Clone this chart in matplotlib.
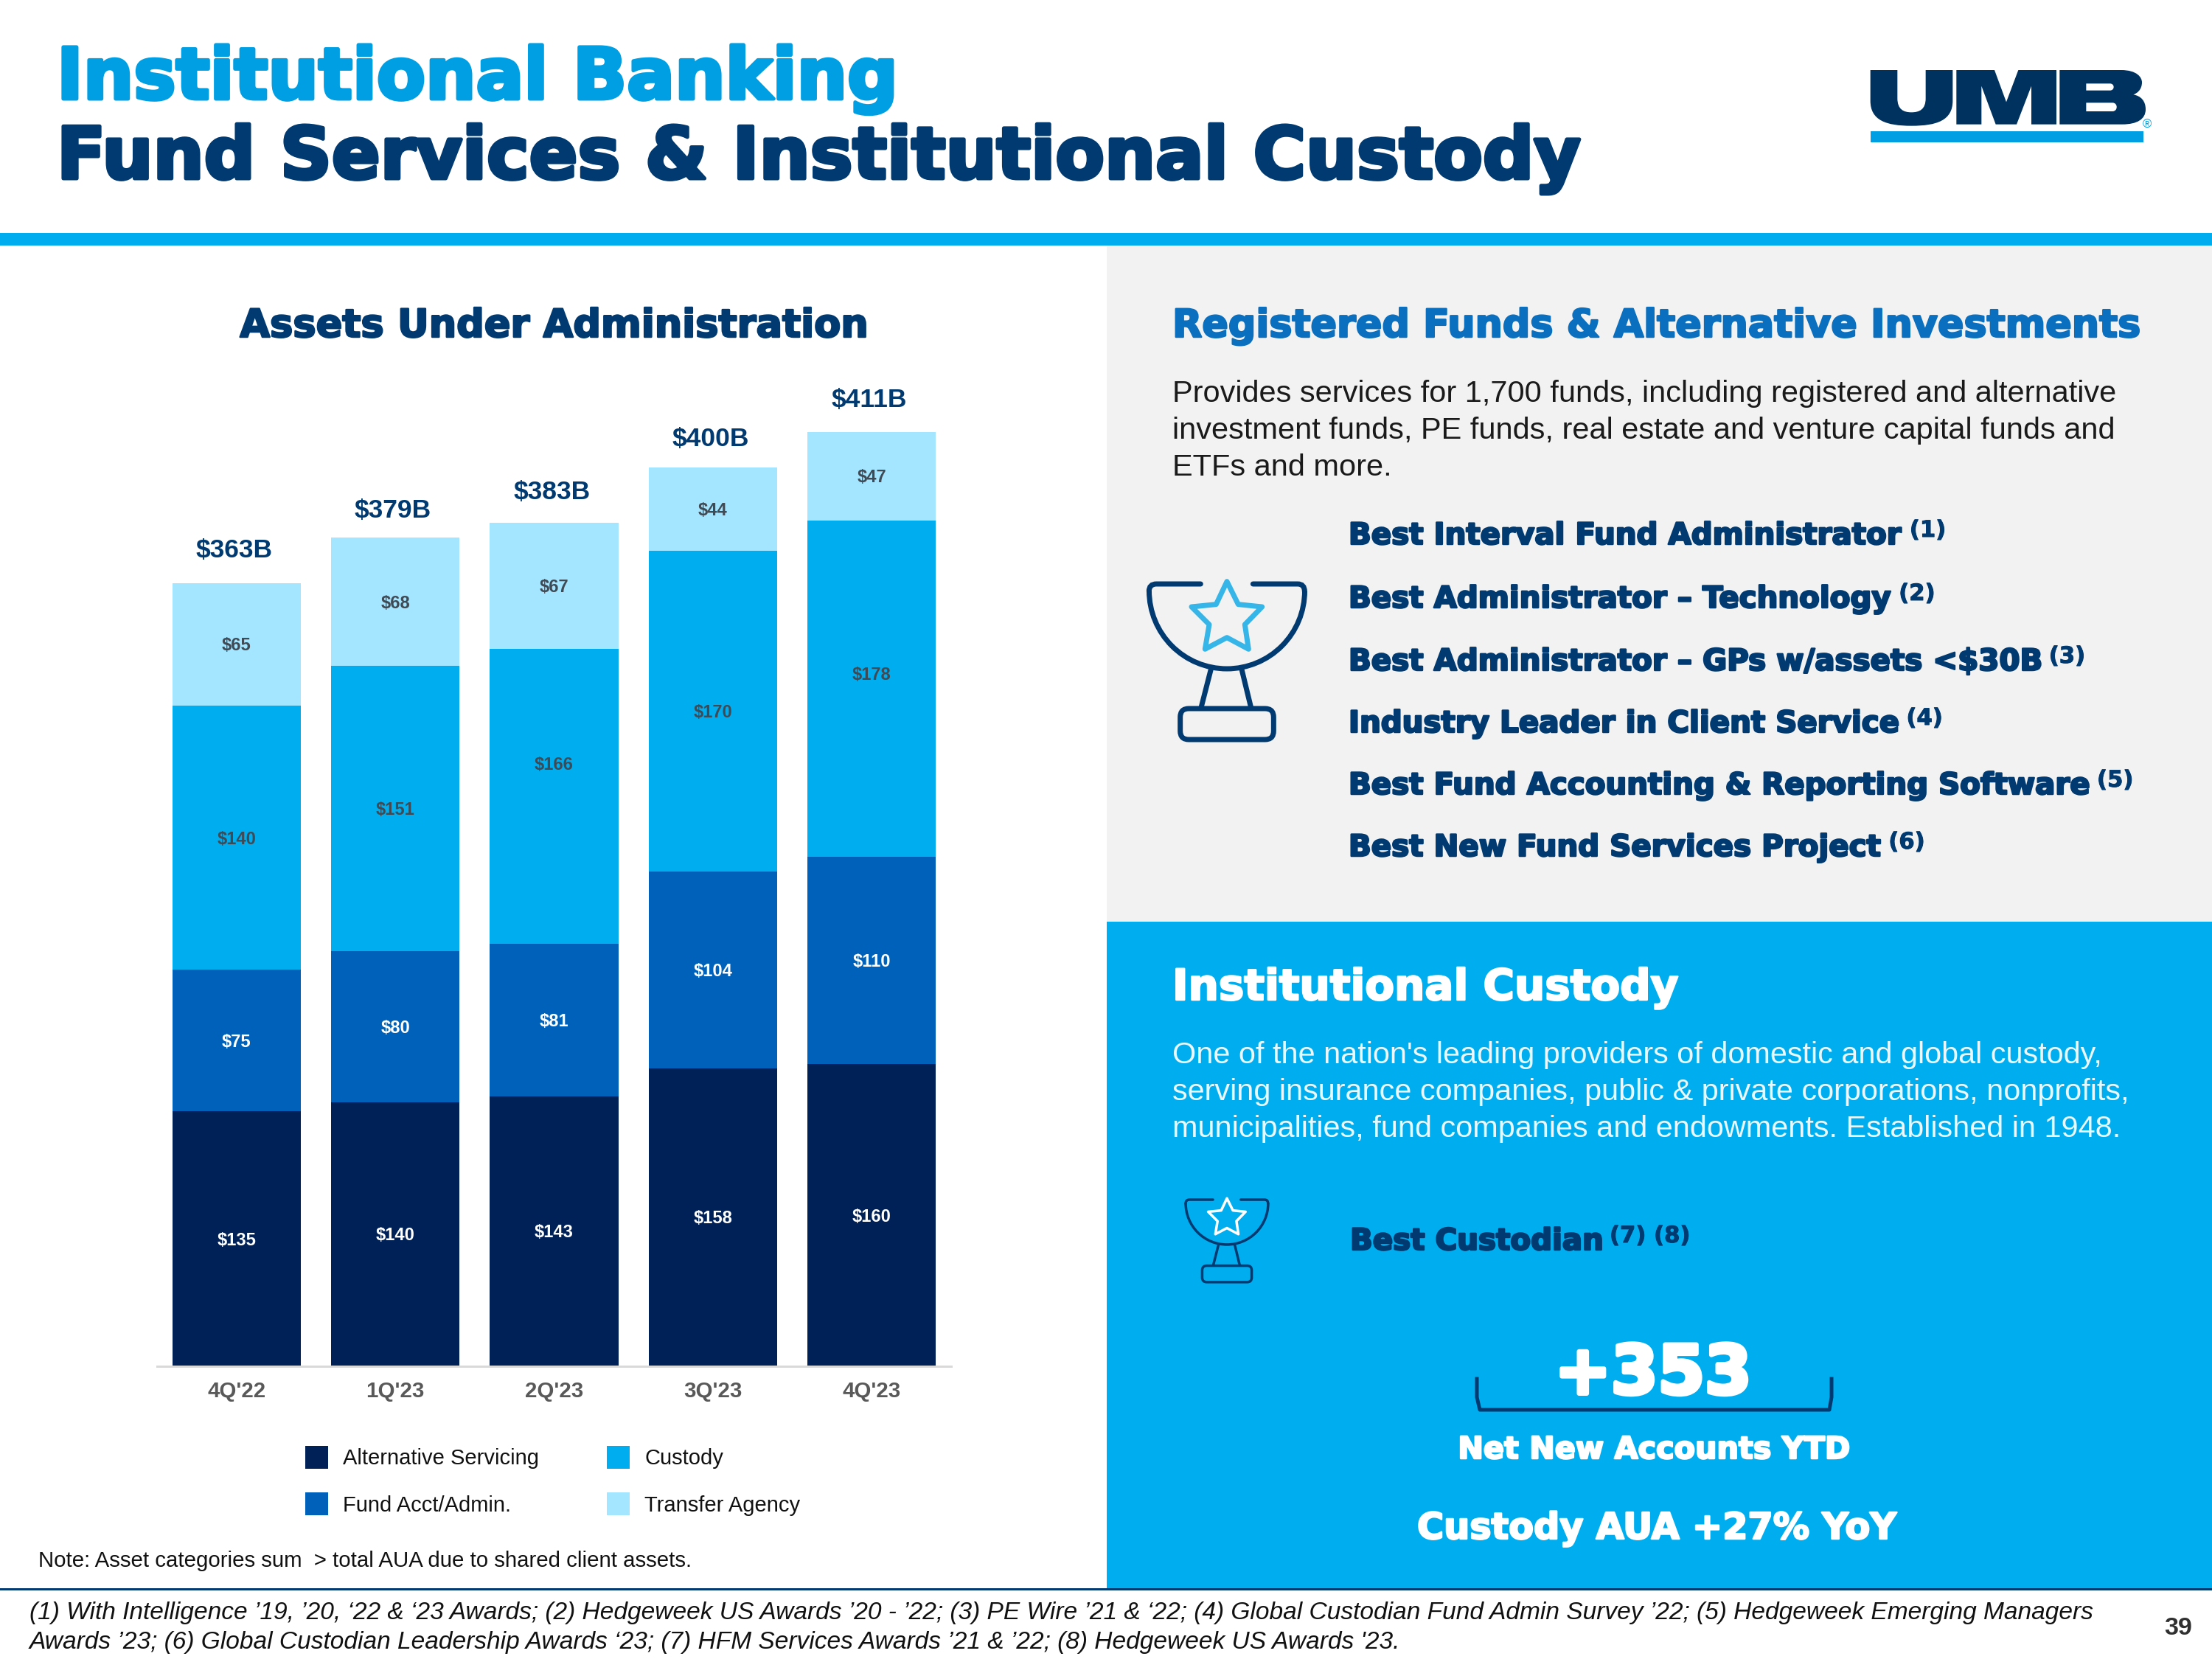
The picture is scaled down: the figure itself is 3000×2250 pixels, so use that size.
import matplotlib
matplotlib.use('Agg')
import matplotlib.pyplot as plt
import matplotlib.patheffects as PathEffects
from matplotlib.font_manager import FontProperties
from matplotlib.patches import Rectangle, FancyBboxPatch, Polygon, PathPatch, Arc
from matplotlib.path import Path
from matplotlib.textpath import TextPath

plt.rcParams['font.family'] = ['Liberation Sans', 'DejaVu Sans']

# chart data, $B
quarters = ["4Q'22", "1Q'23", "2Q'23", "3Q'23", "4Q'23"]
alternative = [135, 140, 143, 158, 160]
fund_acct = [75, 80, 81, 104, 110]
custody = [140, 151, 156, 170, 178]  # 2Q'23 is drawn shorter than its $166 label
transfer = [65, 68, 67, 44, 47]
custody_labels = [140, 151, 166, 170, 178]
totals = ['$363B', '$379B', '$383B', '$400B', '$411B']

series_names = ['Alternative Servicing', 'Fund Acct/Admin.', 'Custody', 'Transfer Agency']
series_colors = ['#002157', '#0061bb', '#00aeef', '#a4e6ff']
label_colors = ['white', 'white', '#3f4a55', '#3f4a55']

awards = ['Best Interval Fund Administrator', 'Best Administrator \u2013 Technology',
          'Best Administrator \u2013 GPs w/assets <$30B', 'Industry Leader in Client Service',
          'Best Fund Accounting & Reporting Software', 'Best New Fund Services Project']
award_notes = ['(1)', '(2)', '(3)', '(4)', '(5)', '(6)']

DARK = '#003a70'
LIGHT = '#009fe3'
BLUE = '#00aeef'
HEAD = 'DejaVu Sans'
BODY = 'Liberation Sans'
PX = 72 / 300  # points per pixel at this dpi


def size_for(s, w, weight='bold', style='normal', family=BODY):
    # font size that makes s about w pixels wide
    fp = FontProperties(family=family, weight=weight, style=style)
    return 100 * w * PX / TextPath((0, 0), s, size=100, prop=fp).get_extents().width


def width_of(s, size, family=HEAD):
    fp = FontProperties(family=family, weight='bold')
    return TextPath((0, 0), s, size=size, prop=fp).get_extents().width / PX


def put(x, y, s, size, color='k', weight='normal', style='normal', ha='left', stroke=0, family=BODY):
    t = bg.text(x, y, s, fontsize=size, color=color, weight=weight, style=style, ha=ha, va='baseline', family=family)
    if stroke:
        t.set_path_effects([PathEffects.withStroke(linewidth=stroke * PX, foreground=color)])
    return t


def head(x, y, s, w, color, ha='left', stroke=2.5):
    # heavy heading fitted to its width in the picture
    return put(x, y, s, size_for(s, w, family=HEAD), color, 'bold', ha=ha, stroke=stroke, family=HEAD)


def trophy(x0, y0, k, star_color, lw):
    # icon outline, local units from a 750 box
    def P(x, y):
        return x0 + (x - 372) * k, y0 + (y - 65) * k
    kw = dict(color=DARK, lw=lw * PX, solid_capstyle='round', solid_joinstyle='round')
    verts = [P(265, 65), P(85, 65), P(55, 65), P(55, 95)]
    codes = [Path.MOVETO, Path.LINETO, Path.CURVE3, Path.CURVE3]
    bg.add_patch(PathPatch(Path(verts, codes), fill=False, ec=DARK, lw=lw * PX, capstyle='round'))
    verts = [P(478, 65), P(660, 65), P(688, 65), P(688, 95)]
    bg.add_patch(PathPatch(Path(verts, codes), fill=False, ec=DARK, lw=lw * PX, capstyle='round'))
    cx, cy = P(372, 93)
    bg.add_patch(Arc((cx, cy), 633 * k, 634 * k, theta1=0, theta2=180, ec=DARK, lw=lw * PX))
    for a, b in [((307, 412), (267, 568)), ((432, 412), (470, 568))]:
        bg.plot(*zip(P(*a), P(*b)), **kw)
    bx, by = P(182 + 35, 572 + 35)
    bg.add_patch(FancyBboxPatch((bx, by), 310 * k, 56 * k, boxstyle=f'round,pad={35 * k},rounding_size={35 * k}',
                                fill=False, ec=DARK, lw=lw * PX))
    star = [(372, 55), (418, 148), (515, 158), (445, 230), (460, 330),
            (372, 283), (283, 330), (300, 230), (228, 158), (328, 148)]
    bg.add_patch(Polygon([P(*p) for p in star], closed=True, fill=False, ec=star_color, lw=lw * PX, joinstyle='round'))


def logo(x0, y0):
    # UMB mark, local units are zoomed pixels (3 per image pixel)
    M, L, C, Z = Path.MOVETO, Path.LINETO, Path.CURVE4, Path.CLOSEPOLY
    shapes = [
        ([(110, 75), (220, 75), (220, 190), (220, 235), (245, 247), (277, 247), (310, 247), (335, 235), (335, 190),
          (335, 75), (445, 75), (445, 200), (445, 280), (380, 302), (277, 302), (175, 302), (110, 280), (110, 200), (110, 75)],
         [M, L, L, C, C, C, C, C, C, L, L, L, C, C, C, C, C, C, Z]),
        ([(460, 75), (615, 75), (663, 205), (712, 75), (867, 75), (867, 296), (765, 296), (765, 140), (705, 296),
          (620, 296), (562, 140), (562, 296), (460, 296), (460, 75)],
         [M, L, L, L, L, L, L, L, L, L, L, L, L, Z]),
        ([(880, 75), (1130, 75), (1195, 75), (1215, 105), (1215, 125), (1215, 155), (1195, 170), (1180, 175),
          (1210, 180), (1230, 200), (1230, 235), (1230, 275), (1195, 296), (1135, 296), (880, 296), (880, 75),
          (988, 130), (988, 158), (1085, 158), (1105, 158), (1105, 130), (1085, 130), (988, 130),
          (988, 208), (988, 243), (1095, 243), (1118, 243), (1118, 208), (1095, 208), (988, 208)],
         [M, L, C, C, C, C, C, C, C, C, C, C, C, C, L, Z,
          M, L, L, C, C, C, Z, M, L, L, C, C, C, Z]),
    ]
    for verts, codes in shapes:
        verts = [(x0 + x / 3, y0 + y / 3) for x, y in verts]
        bg.add_patch(PathPatch(Path(verts, codes), fc='#00325f', ec='none'))


fig = plt.figure(figsize=(10, 7.5), dpi=300)

# page layer in image pixels
bg = fig.add_axes([0, 0, 1, 1], zorder=0)
bg.set_xlim(0, 3000)
bg.set_ylim(2250, 0)
bg.axis('off')

bg.add_patch(Rectangle((0, 316), 3000, 17, fc=BLUE, ec='none'))
bg.add_patch(Rectangle((1501, 333), 1499, 917, fc='#f2f2f2', ec='none'))
bg.add_patch(Rectangle((1501, 1250), 1499, 904, fc=BLUE, ec='none'))
bg.plot([0, 3000], [2155, 2155], color=DARK, lw=3 * PX)

head(77, 134, 'Institutional Banking', 1124, LIGHT, stroke=5)
head(77, 242, 'Fund Services & Institutional Custody', 2056, DARK, stroke=5)
logo(2500, 70)
bg.add_patch(Rectangle((2537, 178), 370, 15, fc=LIGHT, ec='none'))
put(2906, 174, '\u00ae', 4, LIGHT)

head(751, 457, 'Assets Under Administration', 848, DARK, ha='center')
head(1590, 457, 'Registered Funds & Alternative Investments', 1306, '#0a6fbe')

para_size = size_for('Provides services for 1,700 funds, including registered and alternative', 1276, 'normal')
put(1590, 545, 'Provides services for 1,700 funds, including registered and alternative', para_size, '#1a1a1a')
put(1590, 595, 'investment funds, PE funds, real estate and venture capital funds and', para_size, '#1a1a1a')
put(1590, 645, 'ETFs and more.', para_size, '#1a1a1a')

trophy(1664, 792, 1 / 3, '#35b5e8', 7)
award_size = size_for(awards[4], 1000, family=HEAD)
for name, note, y in zip(awards, award_notes, [738, 824, 909, 993, 1077, 1161]):
    put(1829, y, name, award_size, DARK, 'bold', stroke=2.5, family=HEAD)
    put(1829 + width_of(name, award_size) + 15, y - 10, note, award_size * 0.76, DARK, 'bold', stroke=1, family=HEAD)

head(1590, 1356, 'Institutional Custody', 680, 'white')
cust_size = size_for('serving insurance companies, public & private corporations, nonprofits,', 1293, 'normal')
put(1590, 1442, "One of the nation's leading providers of domestic and global custody,", cust_size, '#e8f8fe')
put(1590, 1492, 'serving insurance companies, public & private corporations, nonprofits,', cust_size, '#e8f8fe')
put(1590, 1542, 'municipalities, fund companies and endowments. Established in 1948.', cust_size, '#e8f8fe')

trophy(1664, 1627, 0.53 / 3, 'white', 3.5)
put(1831, 1695, 'Best Custodian', award_size, DARK, 'bold', stroke=2.5, family=HEAD)
put(1831 + width_of('Best Custodian', award_size) + 15, 1685, '(7) (8)', award_size * 0.76, DARK, 'bold', stroke=1, family=HEAD)

head(2242, 1890, '+353', 250, 'white', ha='center', stroke=6)
bg.plot([2003, 2003, 2007, 2481, 2484, 2484], [1870, 1895, 1912, 1912, 1895, 1870], color=DARK, lw=5 * PX)
head(2243, 1978, 'Net New Accounts YTD', 526, 'white', ha='center')
head(2247, 2087, 'Custody AUA +27% YoY', 648, 'white', ha='center')

note = 'Note: Asset categories sum  > total AUA due to shared client assets.'
put(52, 2125, note, size_for(note, 881, 'normal'), '#111111')

foot1 = ('(1) With Intelligence \u201919, \u201920, \u201822 & \u201823 Awards; (2) Hedgeweek US Awards \u201920 - \u201922; '
         '(3) PE Wire \u201921 & \u201822; (4) Global Custodian Fund Admin Survey \u201922; (5) Hedgeweek Emerging Managers')
foot2 = ('Awards \u201923; (6) Global Custodian Leadership Awards \u201823; (7) HFM Services Awards \u201921 & \u201922; '
         "(8) Hedgeweek US Awards '23.")
foot_size = size_for(foot1, 2805, 'normal', 'italic')
put(40, 2196, foot1, foot_size, '#111111', style='italic')
put(40, 2236, foot2, foot_size, '#111111', style='italic')
put(2935, 2217, '39', size_for('39', 36), '#303030', 'bold')

# stacked bars, 215.4 px per quarter and 2.56 px per $B
ymax = 528
base = 1853
ax = fig.add_axes([213 / 3000, 1 - base / 2250, 1077 / 3000, ymax * 2.56 / 2250], zorder=1)
ax.patch.set_alpha(0)
bottom = [0] * len(quarters)
x = range(len(quarters))
stacks = [alternative, fund_acct, custody, transfer]
shown = [alternative, fund_acct, custody_labels, transfer]
for name, vals, labs, col, lab in zip(series_names, stacks, shown, series_colors, label_colors):
    ax.bar(x, vals, width=0.808, bottom=bottom, color=col, label=name)
    for xi, b, v, s in zip(x, bottom, vals, labs):
        # the source keeps these two labels above the segment centre
        up = {166: 42, 178: 18}.get(s, -2)
        ax.annotate(f'${s}', (xi, b + v / 2), xytext=(0, up * PX), textcoords='offset points',
                    ha='center', va='center', fontsize=5.7, color=lab, weight='bold')
    bottom = [b + v for b, v in zip(bottom, vals)]

# the totals do not sit at one height above their bars in the source
for xi, top, s, nudge in zip(x, bottom, totals, [0, -7, -3, -5, -1]):
    ax.annotate(s, (xi, top), xytext=(-0.8, 6.6 + nudge * PX), textcoords='offset points', ha='center', va='bottom',
                fontsize=8.5, color=DARK, weight='bold')

ax.set_xlim(-0.5, 4.5)
ax.set_ylim(0, ymax)
ax.set_xticks(list(x))
ax.set_xticklabels(quarters, fontsize=7.1, weight='bold', color='#595959')
ax.tick_params(axis='x', length=0, pad=4.8)
ax.set_yticks([])
for side in ['top', 'left', 'right']:
    ax.spines[side].set_visible(False)
ax.spines['bottom'].set_color('#d9d9d9')
ax.spines['bottom'].set_linewidth(3 * PX)

fs = 7.0
fs_px = fs / PX
ax.legend(ncols=2, loc='upper left', bbox_to_anchor=(414 / 3000, 1 - 1961 / 2250), bbox_transform=fig.transFigure,
          frameon=False, fontsize=fs, borderpad=0, borderaxespad=0, handlelength=31 / fs_px, handleheight=1.26,
          handletextpad=20 / fs_px, labelspacing=32 / fs_px, columnspacing=92 / fs_px, labelcolor='#111111')

fig.savefig('out.png', dpi=300)
